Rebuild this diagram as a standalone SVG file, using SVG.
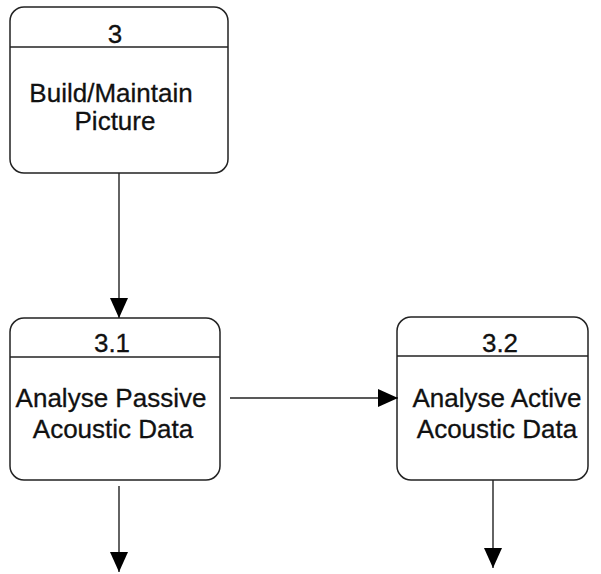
<svg xmlns="http://www.w3.org/2000/svg" width="601" height="574" viewBox="0 0 601 574">
<style>
.box{fill:#fff;stroke:#222;stroke-width:1.5}
.sep{stroke:#222;stroke-width:1.3}
.t{font-family:"Liberation Sans",Arial,sans-serif;font-size:26px;fill:#111;stroke:#111;stroke-width:0.3;text-anchor:middle}
.c{stroke:#222;stroke-width:1.4;fill:none}
</style>
<defs>
<marker id="ah" markerUnits="userSpaceOnUse" markerWidth="20" markerHeight="20" viewBox="0 0 20 20" refX="20" refY="10" orient="auto">
<path d="M0,1 L20,10 L0,19 Z" fill="#000"/>
</marker>
</defs>
<rect width="601" height="574" fill="#fff"/>
<g id="node-3">
<rect class="box" x="10" y="7" width="218" height="166" rx="14"/>
<line class="sep" x1="10" y1="47" x2="228" y2="47"/>
<text class="t" x="115" y="43">3</text>
<text class="t" x="111" y="102">Build/Maintain</text>
<text class="t" x="115" y="130">Picture</text>
</g>
<g id="node-3-1">
<rect class="box" x="10" y="318" width="210" height="162" rx="14"/>
<line class="sep" x1="10" y1="357" x2="220" y2="357"/>
<text class="t" x="112" y="352">3.1</text>
<text class="t" x="111" y="407">Analyse Passive</text>
<text class="t" x="113" y="438">Acoustic Data</text>
</g>
<g id="node-3-2">
<rect class="box" x="397" y="317" width="191" height="163" rx="14"/>
<line class="sep" x1="397" y1="356" x2="588" y2="356"/>
<text class="t" x="500" y="352">3.2</text>
<text class="t" x="497" y="407">Analyse Active</text>
<text class="t" x="497" y="438">Acoustic Data</text>
</g>
<g id="connectors">
<line class="c" x1="119" y1="173" x2="119" y2="318" marker-end="url(#ah)"/>
<line class="c" x1="230" y1="398" x2="398" y2="398" marker-end="url(#ah)"/>
<line class="c" x1="119" y1="486" x2="119" y2="572" marker-end="url(#ah)"/>
<line class="c" x1="493" y1="480" x2="493" y2="568" marker-end="url(#ah)"/>
</g>
</svg>
